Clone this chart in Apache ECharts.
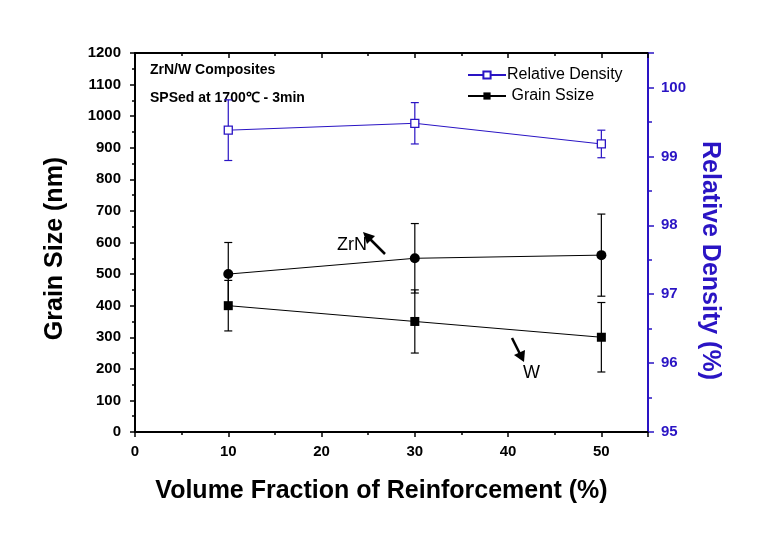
<!DOCTYPE html>
<html><head><meta charset="utf-8">
<script src="https://cdn.jsdelivr.net/npm/echarts@6/dist/echarts.min.js"></script>
<style>html,body{margin:0;padding:0;background:#fff}#c{width:763px;height:539px}</style>
</head><body><div id="c"></div>
<script>
const xs = [10, 30, 50];
const densityVals = [99.38, 99.48, 99.18];
const densityErr = [0.44, 0.30, 0.20];
const zrnVals = [500, 550, 560];
const zrnErr = [100, 110, 130];
const wVals = [400, 350, 300];
const wErr = [80, 100, 110];
const xTicks = [0, 10, 20, 30, 40, 50];

const BLUE = '#2a14c4';
const FONT = '"Liberation Sans", Arial, sans-serif';

function errSeries(vals, errs, color, yIdx) {
  return {
    type: 'custom', yAxisIndex: yIdx, z: 1,
    data: xs.map((x, i) => [x, vals[i] - errs[i], vals[i] + errs[i]]),
    renderItem: function (params, api) {
      const lo = api.coord([api.value(0), api.value(1)]);
      const hi = api.coord([api.value(0), api.value(2)]);
      const w = 4;
      const st = { stroke: color, lineWidth: 1.2 };
      return { type: 'group', children: [
        { type: 'line', shape: { x1: lo[0], y1: lo[1], x2: hi[0], y2: hi[1] }, style: st },
        { type: 'line', shape: { x1: lo[0] - w, y1: lo[1], x2: lo[0] + w, y2: lo[1] }, style: st },
        { type: 'line', shape: { x1: hi[0] - w, y1: hi[1], x2: hi[0] + w, y2: hi[1] }, style: st }
      ]};
    }
  };
}

const chart = echarts.init(document.getElementById('c'), null, { renderer: 'canvas' });
chart.setOption({
  animation: false,
  backgroundColor: '#fff',
  grid: { left: 135, right: 115, top: 53, bottom: 107 },
  legend: {
    orient: 'vertical', left: 462, top: 62, itemGap: 5, itemWidth: 38, itemHeight: 9,
    data: ['Relative Density', 'Grain Ssize'],
    formatter: name => name === 'Grain Ssize' ? ' ' + name : name,
    textStyle: { fontFamily: FONT, fontSize: 16, color: '#000', padding: [0, 0, 0, -4] }
  },
  xAxis: [{
    type: 'value', min: 0, max: 55, interval: 10,
    name: 'Volume Fraction of Reinforcement (%)', nameLocation: 'middle', nameGap: 47,
    nameTextStyle: { fontFamily: FONT, fontSize: 25, fontWeight: 'bold', color: '#000', padding: [0, 20, 0, 0] },
    axisLine: { onZero: false, lineStyle: { color: '#000', width: 2 } },
    axisTick: { length: 5, lineStyle: { color: '#000', width: 1.5 } },
    minorTick: { show: true, splitNumber: 2, length: 3, lineStyle: { color: '#000', width: 1.5 } },
    splitLine: { show: false },
    axisLabel: { margin: 12, showMaxLabel: false, fontFamily: FONT, fontSize: 15, fontWeight: 'bold', color: '#000',
      formatter: v => xTicks.includes(v) ? String(v) : '' }
  }, {
    type: 'value', position: 'top', min: 0, max: 55, interval: 10,
    axisLine: { onZero: false, lineStyle: { color: '#000', width: 2 } },
    axisTick: { inside: true, length: 5, lineStyle: { color: '#000', width: 1.5 } },
    minorTick: { show: true, splitNumber: 2, length: 3, lineStyle: { color: '#000', width: 1.5 } },
    splitLine: { show: false }, axisLabel: { show: false }
  }],
  yAxis: [{
    type: 'value', min: 0, max: 1200, interval: 100,
    name: 'Grain Size (nm)', nameLocation: 'middle', nameGap: 67,
    nameTextStyle: { fontFamily: FONT, fontSize: 25, fontWeight: 'bold', color: '#000', padding: [0, 12, 0, 0] },
    axisLine: { show: true, onZero: false, lineStyle: { color: '#000', width: 2 } },
    axisTick: { show: true, length: 5, lineStyle: { color: '#000', width: 1.5 } },
    minorTick: { show: true, splitNumber: 2, length: 3, lineStyle: { color: '#000', width: 1.5 } },
    splitLine: { show: false },
    axisLabel: { margin: 14, fontFamily: FONT, fontSize: 15, fontWeight: 'bold', color: '#000',
      formatter: v => String(v) }
  }, {
    type: 'value', position: 'right', min: 95, max: 100.5, interval: 1,
    name: 'Relative Density (%)', nameLocation: 'middle', nameGap: 45, nameRotate: -90,
    nameTextStyle: { fontFamily: FONT, fontSize: 25, fontWeight: 'bold', color: BLUE, padding: [0, 0, 0, 36] },
    axisLine: { show: true, onZero: false, lineStyle: { color: BLUE, width: 2 } },
    axisTick: { show: true, length: 6, lineStyle: { color: BLUE, width: 1.5 } },
    minorTick: { show: true, splitNumber: 2, length: 4, lineStyle: { color: BLUE, width: 1.5 } },
    splitLine: { show: false },
    axisLabel: { margin: 13, showMaxLabel: false, fontFamily: FONT, fontSize: 15, fontWeight: 'bold', color: BLUE,
      formatter: v => String(v) }
  }],
  series: [
    errSeries(densityVals, densityErr, BLUE, 1),
    errSeries(zrnVals, zrnErr, '#000', 0),
    errSeries(wVals, wErr, '#000', 0),
    {
      name: 'Relative Density', type: 'line', yAxisIndex: 1, z: 3,
      data: xs.map((x, i) => [x, densityVals[i]]),
      symbol: 'rect', symbolSize: 8,
      lineStyle: { color: BLUE, width: 1 },
      itemStyle: { color: '#fff', borderColor: BLUE, borderWidth: 1.3 }
    },
    {
      name: 'Grain Ssize', type: 'line', yAxisIndex: 0, z: 3,
      data: xs.map((x, i) => [x, wVals[i]]),
      symbol: 'rect', symbolSize: 9,
      lineStyle: { color: '#000', width: 1 },
      itemStyle: { color: '#000' }
    },
    {
      name: 'ZrN', type: 'line', yAxisIndex: 0, z: 3,
      data: xs.map((x, i) => [x, zrnVals[i]]),
      symbol: 'circle', symbolSize: 10,
      lineStyle: { color: '#000', width: 1 },
      itemStyle: { color: '#000' }
    }
  ],
  graphic: [
    { type: 'text', left: 150, top: 63, style: { text: 'ZrN/W Composites', font: 'bold 14px ' + FONT, fill: '#000' } },
    { type: 'text', left: 150, top: 91, style: { text: 'SPSed at 1700\u2103 - 3min', font: 'bold 14px ' + FONT, fill: '#000' } },
    { type: 'text', left: 337, top: 236, style: { text: 'ZrN', font: '18px ' + FONT, fill: '#000' } },
    { type: 'text', left: 523, top: 364, style: { text: 'W', font: '18px ' + FONT, fill: '#000' } },
    { type: 'line', shape: { x1: 385, y1: 254, x2: 369, y2: 238 }, style: { stroke: '#000', lineWidth: 2.5 } },
    { type: 'polygon', shape: { points: [[363, 232], [375, 236], [367, 244]] }, style: { fill: '#000' } },
    { type: 'line', shape: { x1: 512, y1: 338, x2: 520, y2: 354 }, style: { stroke: '#000', lineWidth: 2.5 } },
    { type: 'polygon', shape: { points: [[524, 362], [514, 355], [525, 350]] }, style: { fill: '#000' } }
  ]
});
</script></body></html>
